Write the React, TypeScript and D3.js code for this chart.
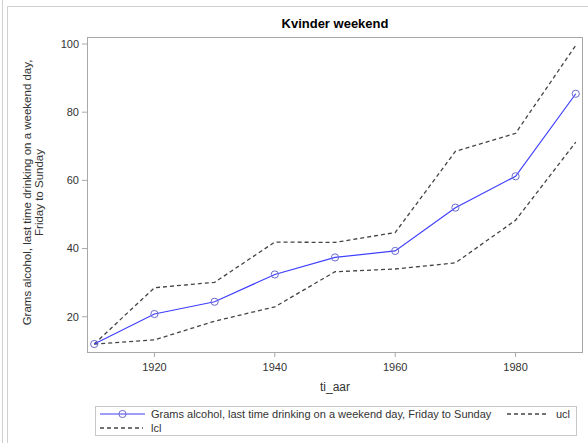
import React from "react";
import * as d3 from "d3";

const years = [1910, 1920, 1930, 1940, 1950, 1960, 1970, 1980, 1990];
const meanValues = [12.0, 20.8, 24.4, 32.4, 37.4, 39.3, 52.0, 61.2, 85.4];
const uclValues = [12.0, 28.5, 30.1, 41.9, 41.8, 44.7, 68.5, 73.8, 99.6];
const lclValues = [12.0, 13.2, 18.7, 22.9, 33.2, 34.0, 35.8, 48.3, 71.2];
const xTicks = [1920, 1940, 1960, 1980];
const yTicks = [20, 40, 60, 80, 100];
const title = "Kvinder weekend";
const xLabel = "ti_aar";
const yLabelLines = ["Grams alcohol, last time drinking on a weekend day,", "Friday to Sunday"];
const meanName = "Grams alcohol, last time drinking on a weekend day, Friday to Sunday";

const W = 588, H = 443;
const left = 87, right = 583, top = 37, bottom = 352;

export default function App() {
  const x = d3.scaleLinear().domain([1908.8, 1991.2]).range([left, right]);
  const y = d3.scaleLinear().domain([9.66, 102.05]).range([bottom, top]);
  const line = d3.line<number>().x((_, i) => x(years[i])).y((v) => y(v));
  const font = "'Liberation Sans', Arial, sans-serif";
  const dash = "4,3";
  const gray = "#444";
  const blue = "#3f3fff";
  const markerColor = "#6b6bcf";
  return (
    <svg width={W} height={H} style={{ position: "absolute", left: 0, top: 0, background: "#fff" }} fontFamily={font}>
      <line x1={2.5} y1={0} x2={2.5} y2={H} stroke="#d0d0d0" />
      <line x1={7.5} y1={6} x2={7.5} y2={H} stroke="#d0d0d0" />
      <line x1={7.5} y1={6.5} x2={W} y2={6.5} stroke="#d0d0d0" />
      <text x={335} y={28} textAnchor="middle" fontSize={13} fontWeight="bold" fill="#000">{title}</text>
      <rect x={left + 0.5} y={top + 0.5} width={right - left - 1} height={bottom - top} fill="none" stroke="#a8a8a8" />
      {yTicks.map((t) => (
        <g key={t}>
          <line x1={left - 5} x2={left} y1={y(t)} y2={y(t)} stroke="#a8a8a8" />
          <text x={left - 8} y={y(t)} dy="0.35em" textAnchor="end" fontSize={11} fill="#333">{t}</text>
        </g>
      ))}
      {xTicks.map((t) => (
        <g key={t}>
          <line x1={x(t)} x2={x(t)} y1={bottom} y2={bottom + 5} stroke="#a8a8a8" />
          <text x={x(t)} y={bottom + 19} textAnchor="middle" fontSize={11} fill="#333">{t}</text>
        </g>
      ))}
      <text x={335} y={391} textAnchor="middle" fontSize={12} fill="#333">{xLabel}</text>
      <g transform={`translate(31, ${(top + bottom) / 2 - 2}) rotate(-90)`}>
        {yLabelLines.map((l, i) => (
          <text key={i} x={0} y={i * 12} textAnchor="middle" fontSize={11.5} fill="#333">{l}</text>
        ))}
      </g>
      <path d={line(uclValues) || ""} fill="none" stroke={gray} strokeWidth={1.3} strokeDasharray={dash} />
      <path d={line(lclValues) || ""} fill="none" stroke={gray} strokeWidth={1.3} strokeDasharray={dash} />
      <path d={line(meanValues) || ""} fill="none" stroke={blue} strokeWidth={1.2} />
      {meanValues.map((v, i) => (
        <circle key={i} cx={x(years[i])} cy={y(v)} r={3.6} fill="none" stroke={markerColor} strokeWidth={1} />
      ))}
      <rect x={95.5} y={406.5} width={481} height={29} fill="#fff" stroke="#c8c8c8" />
      <line x1={100} x2={145} y1={414} y2={414} stroke={blue} strokeWidth={1.2} />
      <circle cx={122.5} cy={414} r={3.6} fill="none" stroke={markerColor} />
      <text x={151} y={414} dy="0.35em" fontSize={11} fill="#333">{meanName}</text>
      <line x1={507} x2={548} y1={414} y2={414} stroke={gray} strokeWidth={1.3} strokeDasharray={dash} />
      <text x={556} y={414} dy="0.35em" fontSize={11} fill="#333">ucl</text>
      <line x1={100} x2={143} y1={428} y2={428} stroke={gray} strokeWidth={1.3} strokeDasharray={dash} />
      <text x={151} y={428} dy="0.35em" fontSize={11} fill="#333">lcl</text>
    </svg>
  );
}
